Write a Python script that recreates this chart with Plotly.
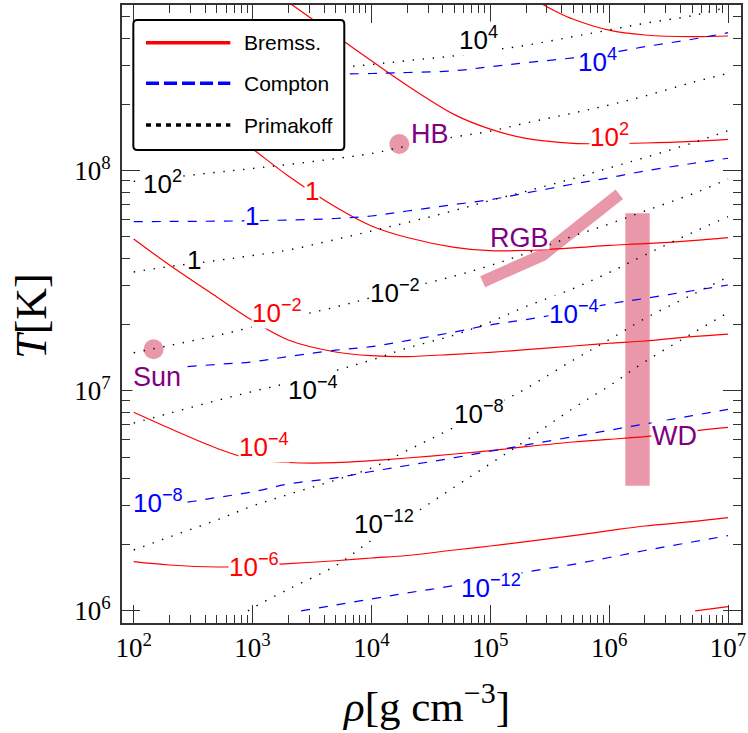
import numpy as np
import plotly.graph_objects as go

RHO_STD = [1e2, 2e2, 5e2, 1e3, 2e3, 5e3, 1e4, 2e4, 5e4, 1e5, 2e5, 5e5, 1e6, 2e6, 5e6, 1e7]

# ---------------- Bremsstrahlung contours (red, solid) ----------------
brem_m8_rho = [5.3e6, 1e7]
brem_m8_T = [1.0e6, 1.045e6]
brem_m6_rho = RHO_STD
brem_m6_T = [1.673e6, 1.616e6, 1.583e6, 1.599e6, 1.638e6, 1.690e6, 1.739e6, 1.785e6,
             1.891e6, 1.972e6, 2.063e6, 2.197e6, 2.315e6, 2.431e6, 2.543e6, 2.651e6]
brem_m4_rho = RHO_STD
brem_m4_T = [7.986e6, 6.753e6, 5.482e6, 4.874e6, 4.722e6, 4.712e6, 4.812e6, 4.95e6,
             5.162e6, 5.345e6, 5.572e6, 5.853e6, 6.02e6, 6.187e6, 6.57e6, 6.826e6]
brem_m2_rho = RHO_STD
brem_m2_T = [4.895e7, 3.728e7, 2.67e7, 2.086e7, 1.701e7, 1.501e7, 1.444e7, 1.431e7,
             1.465e7, 1.496e7, 1.537e7, 1.598e7, 1.644e7, 1.684e7, 1.761e7, 1.811e7]
brem_0_rho = [6.5e2, 1e3, 2e3, 5e3, 1e4, 2e4, 5e4, 1e5, 2e5, 5e5, 1e6, 2e6, 5e6, 1e7]
brem_0_T = [1.484e8, 1.255e8, 9.46e7, 6.84e7, 5.61e7, 4.97e7, 4.487e7, 4.33e7,
            4.347e7, 4.463e7, 4.581e7, 4.659e7, 4.808e7, 4.961e7]
brem_2_rho = [1.5e3, 2e3, 5e3, 1e4, 2e4, 5e4, 1e5, 2e5, 5e5, 1e6, 2e6, 5e6, 1e7]
brem_2_T = [6.49e8, 5.83e8, 4.11e8, 3.158e8, 2.441e8, 1.798e8, 1.545e8, 1.401e8,
            1.332e8, 1.327e8, 1.336e8, 1.36e8, 1.389e8]
brem_4_rho = [2.0e5, 3.5e5, 5e5, 1e6, 2e6, 5e6, 1e7]
brem_4_T = [6.28e8, 5.32e8, 4.874e8, 4.348e8, 4.135e8, 4.062e8, 4.093e8]

# ---------------- Compton contours (blue, dashed) ----------------
comp_4_rho = [1e2, 1e3, 1e4, 2e4, 5e4, 1e5, 2e5, 5e5, 1e6, 2e6, 5e6, 1e7]
comp_4_T = [2.707e8, 2.713e8, 2.764e8, 2.793e8, 2.846e8, 2.968e8, 3.095e8, 3.258e8,
            3.426e8, 3.659e8, 3.954e8, 4.236e8]
comp_0_rho = RHO_STD
comp_0_T = [5.866e7, 5.88e7, 5.897e7, 5.928e7, 5.97e7, 6.065e7, 6.226e7, 6.56e7,
            7.022e7, 7.384e7, 7.918e7, 8.70e7, 9.29e7, 9.97e7, 1.078e8, 1.139e8]
comp_m4_rho = RHO_STD
comp_m4_T = [1.252e7, 1.272e7, 1.318e7, 1.354e7, 1.431e7, 1.529e7, 1.587e7, 1.691e7,
             1.85e7, 1.994e7, 2.106e7, 2.302e7, 2.482e7, 2.629e7, 2.847e7, 3.025e7]
comp_m8_rho = RHO_STD
comp_m8_T = [2.997e6, 3.044e6, 3.275e6, 3.472e6, 3.772e6, 4.024e6, 4.298e6, 4.576e6,
             4.966e6, 5.311e6, 5.674e6, 6.187e6, 6.614e6, 7.067e6, 7.706e6, 8.24e6]
comp_m12_rho = [2.56e3, 5e3, 1e4, 2e4, 5e4, 1e5, 2e5, 5e5, 1e6, 2e6, 5e6, 1e7]
comp_m12_T = [1.0e6, 1.064e6, 1.133e6, 1.206e6, 1.304e6, 1.396e6, 1.502e6, 1.628e6,
              1.748e6, 1.881e6, 2.056e6, 2.197e6]

# ---------------- Primakoff contours (black, dotted) ----------------
prim_4_rho = [1e2, 1e3, 5e3, 1e4, 2e4, 5e4, 1e5, 2e5, 5e5, 1e6, 2e6, 5e6, 1e7]
prim_4_T = [2.53e8, 2.693e8, 2.935e8, 3.037e8, 3.16e8, 3.327e8, 3.517e8, 3.713e8,
            4.067e8, 4.358e8, 4.674e8, 5.061e8, 5.542e8]
prim_2_rho = RHO_STD
prim_2_T = [8.94e7, 9.31e7, 9.83e7, 1.024e8, 1.067e8, 1.135e8, 1.197e8, 1.295e8,
            1.423e8, 1.512e8, 1.647e8, 1.829e8, 1.988e8, 2.185e8, 2.516e8, 2.77e8]
prim_0_rho = RHO_STD
prim_0_T = [3.466e7, 3.671e7, 3.908e7, 4.118e7, 4.362e7, 4.869e7, 5.321e7, 5.818e7,
            6.597e7, 7.32e7, 8.06e7, 9.22e7, 1.029e8, 1.148e8, 1.336e8, 1.52e8]
prim_m2_rho = RHO_STD
prim_m2_T = [1.488e7, 1.606e7, 1.783e7, 1.951e7, 2.142e7, 2.403e7, 2.654e7, 2.932e7,
             3.323e7, 3.709e7, 4.21e7, 5.05e7, 5.726e7, 6.56e7, 7.838e7, 9.17e7]
prim_m4_rho = RHO_STD
prim_m4_T = [7.134e6, 7.903e6, 9.035e6, 9.926e6, 1.085e7, 1.237e7, 1.38e7, 1.564e7,
             1.793e7, 2.054e7, 2.415e7, 2.916e7, 3.447e7, 4.14e7, 5.23e7, 6.18e7]
prim_m8_rho = RHO_STD
prim_m8_T = [1.891e6, 2.167e6, 2.588e6, 2.997e6, 3.38e6, 3.933e6, 4.46e6, 5.355e6,
             6.846e6, 8.4e6, 1.024e7, 1.38e7, 1.707e7, 2.13e7, 2.731e7, 3.289e7]
prim_m12_rho = [9.15e2, 1e3, 2e3, 5e3, 1e4, 2e4, 5e4, 1e5, 2e5, 5e5, 1e6, 2e6, 5e6, 1e7]
prim_m12_T = [1.0e6, 1.031e6, 1.255e6, 1.605e6, 2.091e6, 2.64e6, 3.655e6, 4.659e6,
              5.952e6, 8.34e6, 1.052e7, 1.356e7, 1.821e7, 2.264e7]

# ---------------- Stellar environments ----------------
rgb_rho = [8.63e4, 2.76e5, 1.218e6]
rgb_T = [3.13e7, 4.14e7, 7.81e7]
wd_rho = [1.368e6, 2.194e6]
wd_T = [3.706e6, 6.404e7]
point_names = ["Sun", "HB"]
point_rho = [147, 1.717e4]
point_T = [1.544e7, 1.322e8]

# contour labels: text, rho, T
brem_labels = [("10<sup>−6</sup>", 1.02e3, 1.616e6), ("10<sup>−4</sup>", 1.256e3, 5.614e6),
               ("10<sup>−2</sup>", 1.606e3, 2.293e7), ("1", 3.15e3, 8.10e7),
               ("10<sup>2</sup>", 1.003e6, 1.441e8)]
comp_labels = [("10<sup>4</sup>", 8.01e5, 3.158e8), ("1", 995, 6.238e7),
               ("10<sup>−4</sup>", 5.11e5, 2.257e7), ("10<sup>−8</sup>", 159, 3.157e6),
               ("10<sup>−12</sup>", 1.014e5, 1.285e6)]
prim_labels = [("10<sup>4</sup>", 7.96e4, 3.995e8), ("10<sup>2</sup>", 175, 8.84e7),
               ("1", 323.6, 3.93e7), ("10<sup>−2</sup>", 1.579e4, 2.82e7),
               ("10<sup>−4</sup>", 3.206e3, 1.027e7), ("10<sup>−8</sup>", 7.96e4, 7.97e6),
               ("10<sup>−12</sup>", 1.264e4, 2.521e6)]
env_labels = [("Sun", 158.5, 1.156e7), ("HB", 3.11e4, 1.468e8),
              ("RGB", 1.778e5, 4.945e7), ("WD", 3.58e6, 6.23e6)]

x_tickvals = [1e2, 1e3, 1e4, 1e5, 1e6, 1e7]
x_ticktext = ["10<sup>2</sup>", "10<sup>3</sup>", "10<sup>4</sup>", "10<sup>5</sup>",
              "10<sup>6</sup>", "10<sup>7</sup>"]
y_tickvals = [1e6, 1e7, 1e8]
y_ticktext = ["10<sup>6</sup>", "10<sup>7</sup>", "10<sup>8</sup>"]

PINK = "rgb(232,152,168)"
PURPLE = "rgb(128,0,128)"
RED = "#ff0000"
BLUE = "#0000ff"
FRAME = "#333333"

fig = go.Figure()

# environments (below curves)
fig.add_trace(go.Scatter(
    x=[wd_rho[0], wd_rho[1], wd_rho[1], wd_rho[0], wd_rho[0]],
    y=[wd_T[0], wd_T[0], wd_T[1], wd_T[1], wd_T[0]],
    mode="lines", fill="toself", fillcolor=PINK, line=dict(width=0, color=PINK),
    showlegend=False, hoverinfo="skip"))
fig.add_trace(go.Scatter(x=rgb_rho, y=rgb_T, mode="lines",
                         line=dict(color=PINK, width=12), showlegend=False, hoverinfo="skip"))
fig.add_trace(go.Scatter(x=point_rho, y=point_T, mode="markers", text=point_names,
                         marker=dict(color=PINK, size=20, line=dict(width=0)),
                         showlegend=False, hoverinfo="skip"))

def add_curve(rho, T, color, dash, width):
    fig.add_trace(go.Scatter(x=rho, y=T, mode="lines",
                             line=dict(color=color, width=width, dash=dash, shape="spline"),
                             showlegend=False, hoverinfo="skip"))

for rho, T in [(brem_m8_rho, brem_m8_T), (brem_m6_rho, brem_m6_T), (brem_m4_rho, brem_m4_T),
               (brem_m2_rho, brem_m2_T), (brem_0_rho, brem_0_T), (brem_2_rho, brem_2_T),
               (brem_4_rho, brem_4_T)]:
    add_curve(rho, T, RED, "solid", 1.2)
for rho, T in [(comp_4_rho, comp_4_T), (comp_0_rho, comp_0_T), (comp_m4_rho, comp_m4_T),
               (comp_m8_rho, comp_m8_T), (comp_m12_rho, comp_m12_T)]:
    add_curve(rho, T, BLUE, "9px,9px", 1.2)
for rho, T in [(prim_4_rho, prim_4_T), (prim_2_rho, prim_2_T), (prim_0_rho, prim_0_T),
               (prim_m2_rho, prim_m2_T), (prim_m4_rho, prim_m4_T), (prim_m8_rho, prim_m8_T),
               (prim_m12_rho, prim_m12_T)]:
    add_curve(rho, T, "black", "1.4px,8.6px", 1.4)

annotations = []
LABEL_FONT = "Liberation Sans, Arial, sans-serif"
for labels, color in [(brem_labels, RED), (comp_labels, BLUE), (prim_labels, "black")]:
    for txt, r, t in labels:
        annotations.append(dict(x=np.log10(r), y=np.log10(t), xref="x", yref="y", text=txt,
                                showarrow=False, font=dict(family=LABEL_FONT, size=26, color=color),
                                bgcolor="white", borderpad=0, xanchor="center", yanchor="middle"))
for txt, r, t in env_labels:
    extra = dict(height=22) if txt == "RGB" else {}
    annotations.append(dict(x=np.log10(r), y=np.log10(t), xref="x", yref="y", text=txt,
                            showarrow=False, font=dict(family=LABEL_FONT, size=27, color=PURPLE),
                            bgcolor="white", borderpad=0, xanchor="center", yanchor="middle",
                            **extra))

# axis titles
annotations.append(dict(x=0.491, y=-0.130, xref="paper", yref="paper",
                        text="<i>ρ</i>[g cm<sup>−3</sup>]", showarrow=False,
                        font=dict(family="Liberation Serif, serif", size=43, color="black"),
                        xanchor="center", yanchor="middle"))
annotations.append(dict(x=-0.1454, y=0.497, xref="paper", yref="paper",
                        text="<i>T</i>[K]", showarrow=False, textangle=-90,
                        font=dict(family="Liberation Serif, serif", size=44, color="black"),
                        xanchor="center", yanchor="middle"))

# custom legend
lx0, lx1, ly0, ly1 = 0.0183, 0.3591, 0.7654, 0.9757
r = 0.0065
legend_path = (f"M {lx0+r},{ly1} L {lx1-r},{ly1} Q {lx1},{ly1} {lx1},{ly1-r} "
               f"L {lx1},{ly0+r} Q {lx1},{ly0} {lx1-r},{ly0} L {lx0+r},{ly0} "
               f"Q {lx0},{ly0} {lx0},{ly0+r} L {lx0},{ly1-r} Q {lx0},{ly1} {lx0+r},{ly1} Z")
shapes = [dict(type="path", path=legend_path, xref="paper", yref="paper",
               fillcolor="white", line=dict(color="black", width=2), layer="above")]
legend_items = [("Bremss.", RED, "solid", 0.9390), ("Compton", BLUE, "13px,5px", 0.8733),
                ("Primakoff", "black", "5px,5px", 0.8058)]
for name, color, dash, yy in legend_items:
    shapes.append(dict(type="line", xref="paper", yref="paper", x0=0.0388, x1=0.1750,
                       y0=yy, y1=yy, line=dict(color=color, width=3.5, dash=dash), layer="above"))
    annotations.append(dict(x=0.1934, y=yy, xref="paper", yref="paper", text=name,
                            showarrow=False, xanchor="left", yanchor="middle",
                            font=dict(family=LABEL_FONT, size=21, color="black")))

x_minor = [k * 10 ** d for d in range(2, 7) for k in range(2, 10)]
y_minor = [k * 10 ** d for d in range(6, 9) for k in range(2, 10) if k * 10 ** d <= 5e8]

axis_common = dict(type="log", showgrid=False, zeroline=False, showline=True, mirror="ticks",
                   linecolor=FRAME, linewidth=1.6, ticks="inside", ticklen=18, tickwidth=1.3,
                   tickcolor=FRAME, automargin=False,
                   tickfont=dict(family="Liberation Serif, serif", size=27, color="black"))

fig.update_layout(
    width=748, height=733,
    margin=dict(l=122, r=7, t=5, b=110),
    paper_bgcolor="white", plot_bgcolor="white",
    showlegend=False,
    xaxis=dict(range=[1.9016, 7.1094], tickmode="array", tickvals=x_tickvals,
               ticktext=x_ticktext,
               minor=dict(tickmode="array", tickvals=x_minor, ticks="inside", ticklen=8,
                          tickwidth=1.2, tickcolor=FRAME, showgrid=False),
               **axis_common),
    yaxis=dict(range=[5.945, 8.7528], tickmode="array", tickvals=y_tickvals,
               ticktext=y_ticktext, ticklabelstandoff=4,
               minor=dict(tickmode="array", tickvals=y_minor, ticks="inside", ticklen=8,
                          tickwidth=1.2, tickcolor=FRAME, showgrid=False),
               **axis_common),
    shapes=shapes,
    annotations=annotations,
)

fig.write_html("out.html", config={"displayModeBar": False},
               post_script="document.body.style.margin='0';document.body.style.overflow='hidden';")
